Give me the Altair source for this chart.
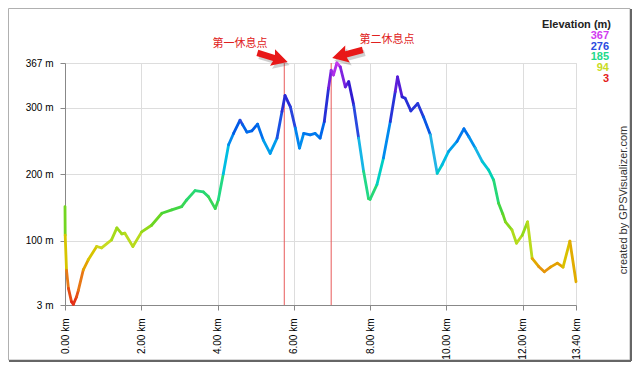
import altair as alt
import pandas as pd

# ---- elevation profile (km, metres) ----
km = [0.0, 0.005, 0.04, 0.09, 0.17, 0.22, 0.30, 0.35, 0.48, 0.61, 0.83, 0.96, 1.22, 1.36,
      1.49, 1.57, 1.78, 2.01, 2.27, 2.54, 2.80, 3.06, 3.19, 3.41, 3.63, 3.76, 3.94, 4.02,
      4.15, 4.29, 4.42, 4.59, 4.66, 4.77, 4.90, 5.05, 5.20, 5.38, 5.56, 5.69, 5.77, 5.91,
      6.04, 6.15, 6.26, 6.43, 6.56, 6.69, 6.80, 6.91, 6.98, 7.04, 7.13, 7.22, 7.35, 7.44,
      7.57, 7.70, 7.83, 7.96, 8.00, 8.18, 8.35, 8.53, 8.66, 8.72, 8.84, 8.92, 9.07, 9.25,
      9.40, 9.58, 9.76, 9.89, 10.06, 10.28, 10.46, 10.59, 10.76, 10.94, 11.11, 11.24,
      11.37, 11.48, 11.55, 11.72, 11.84, 11.99, 12.13, 12.25, 12.42, 12.57, 12.73, 12.91,
      13.06, 13.24, 13.40]
elev = [151, 108, 55, 28, 8, 4, 15, 25, 56, 71, 91, 89, 101, 119,
        110, 111, 91, 113, 123, 141, 146, 151, 161, 175, 173, 166, 148, 161,
        200, 244, 261, 281, 274, 263, 265, 275, 251, 231, 254, 294, 318, 301,
        269, 239, 261, 259, 261, 254, 279, 329, 356, 349, 367, 361, 331, 339,
        304, 254, 204, 163, 162, 184, 224, 279, 324, 346, 316, 314, 295, 306,
        286, 259, 201, 214, 234, 249, 268, 256, 239, 219, 206, 191,
        156, 140, 128, 116, 96, 108, 128, 73, 61, 53, 60, 66,
        60, 99, 38]

rest_km = [5.75, 6.98]
rest_labels = ["第一休息点", "第二休息点"]

x_ticks = [0, 2, 4, 6, 8, 10, 12, 13.4]
y_ticks = [3, 100, 200, 300, 367]

legend_values = [367, 276, 185, 94, 3]
color_domain = [3, 48, 94, 140, 185, 230, 276, 320, 345, 367]
color_range = ["#e31a1a", "#e8841a", "#c9dc22", "#4fd42a", "#22d98a",
               "#22b4e6", "#2a4ce0", "#2a1ad0", "#7a22e0", "#d23cf0"]

df = pd.DataFrame({"idx": range(len(km)), "km": km, "elev": elev})
color_scale = alt.Scale(domain=color_domain, range=color_range)

xs = alt.Scale(domain=[0, 13.4], nice=False, zero=False)
ys = alt.Scale(domain=[3, 367], nice=False, zero=False)

profile = (
    alt.Chart(df)
    .transform_window(km2="lead(km)", elev2="lead(elev)", sort=[alt.SortField("idx")])
    .transform_filter("datum.km2 != null")
    .transform_calculate(mid="(datum.elev + datum.elev2) / 2")
    .mark_rule(strokeWidth=2.8, strokeCap="round")
    .encode(
        x=alt.X("km:Q", scale=xs, title=None,
                axis=alt.Axis(values=x_ticks, labelAngle=270, labelPadding=8,
                              labelExpr="format(datum.value, '.2f') + ' km'")),
        x2="km2:Q",
        y=alt.Y("elev:Q", scale=ys, title=None,
                axis=alt.Axis(values=y_ticks, labelPadding=7,
                              labelExpr="datum.value + ' m'")),
        y2="elev2:Q",
        color=alt.Color("mid:Q", scale=color_scale, legend=None),
    )
)

rests = (
    alt.Chart(pd.DataFrame({"km": rest_km}))
    .mark_rule(color="#e85a5a", strokeWidth=1)
    .encode(x=alt.X("km:Q", scale=xs), y=alt.value(0), y2=alt.value(242))
)

layers = [rests, profile]

one = alt.Data(values=[{"a": 1}])

# annotation texts
for lab, (tx, ty) in zip(rest_labels, [(175, -19), (322, -23)]):
    layers.append(
        alt.Chart(one).mark_text(text=lab, color="#e02020", fontSize=11,
                                 font="Noto Sans CJK SC", align="center", baseline="middle")
        .encode(x=alt.value(tx), y=alt.value(ty))
    )

arrow_path = "M -1 -0.2 L 0.1 -0.2 L 0.0 -0.55 L 1 0 L 0.0 0.55 L 0.1 0.2 L -1 0.2 Z"
for (ax, ay, ang) in [(207.5, -5.5, 17), (282.5, -9, 165)]:
    layers.append(
        alt.Chart(one).mark_point(shape=arrow_path, size=1000, filled=True, color="#444",
                                  opacity=0.25, angle=ang, strokeWidth=0)
        .encode(x=alt.value(ax + 2), y=alt.value(ay + 3))
    )
    layers.append(
        alt.Chart(one).mark_point(shape=arrow_path, size=1000, filled=True, color="#e81818",
                                  opacity=1, angle=ang, strokeWidth=0)
        .encode(x=alt.value(ax), y=alt.value(ay))
    )

# legend
layers.append(
    alt.Chart(one).mark_text(text="Elevation (m)", fontSize=11, fontWeight="bold",
                             color="#222", align="right", baseline="middle",
                             font="Liberation Sans")
    .encode(x=alt.value(546), y=alt.value(-38))
)
for i, v in enumerate(legend_values):
    layers.append(
        alt.Chart(pd.DataFrame({"v": [v]})).mark_text(fontSize=11, fontWeight="bold",
                                                      align="right", baseline="middle",
                                                      font="Liberation Sans")
        .encode(x=alt.value(544), y=alt.value(-27 + i * 10.7), text="v:Q",
                color=alt.Color("v:Q", scale=color_scale, legend=None))
    )

# credit
layers.append(
    alt.Chart(one).mark_text(text="created by GPSVisualizer.com", fontSize=11, angle=270,
                             color="#333", align="center", baseline="middle",
                             font="Liberation Sans")
    .encode(x=alt.value(559), y=alt.value(137))
)

# frame
layers.append(
    alt.Chart(one).mark_rect(fillOpacity=0, stroke="#b0b0b0", strokeWidth=1)
    .encode(x=alt.value(-56.5), x2=alt.value(565), y=alt.value(-54.5), y2=alt.value(297))
)
layers.append(
    alt.Chart(one).mark_rule(color="#666", strokeWidth=2)
    .encode(x=alt.value(-56), x2=alt.value(566), y=alt.value(298))
)
layers.append(
    alt.Chart(one).mark_rule(color="#666", strokeWidth=2)
    .encode(x=alt.value(566), y=alt.value(-54), y2=alt.value(298))
)

chart = (
    alt.layer(*layers)
    .properties(width=511, height=242,
                padding={"left": 57, "top": 55, "right": 56, "bottom": 58},
                autosize=alt.AutoSizeParams(type="none"))
    .configure_view(stroke="#cfcfcf")
    .configure_axis(grid=True, gridColor="#cfcfcf", gridWidth=1, ticks=False, domain=False,
                    labelFont="Liberation Sans", labelFontSize=11, labelColor="#333")
    .configure(background="white")
)

chart.save("out.html", embed_options={"renderer": "svg", "actions": False})
